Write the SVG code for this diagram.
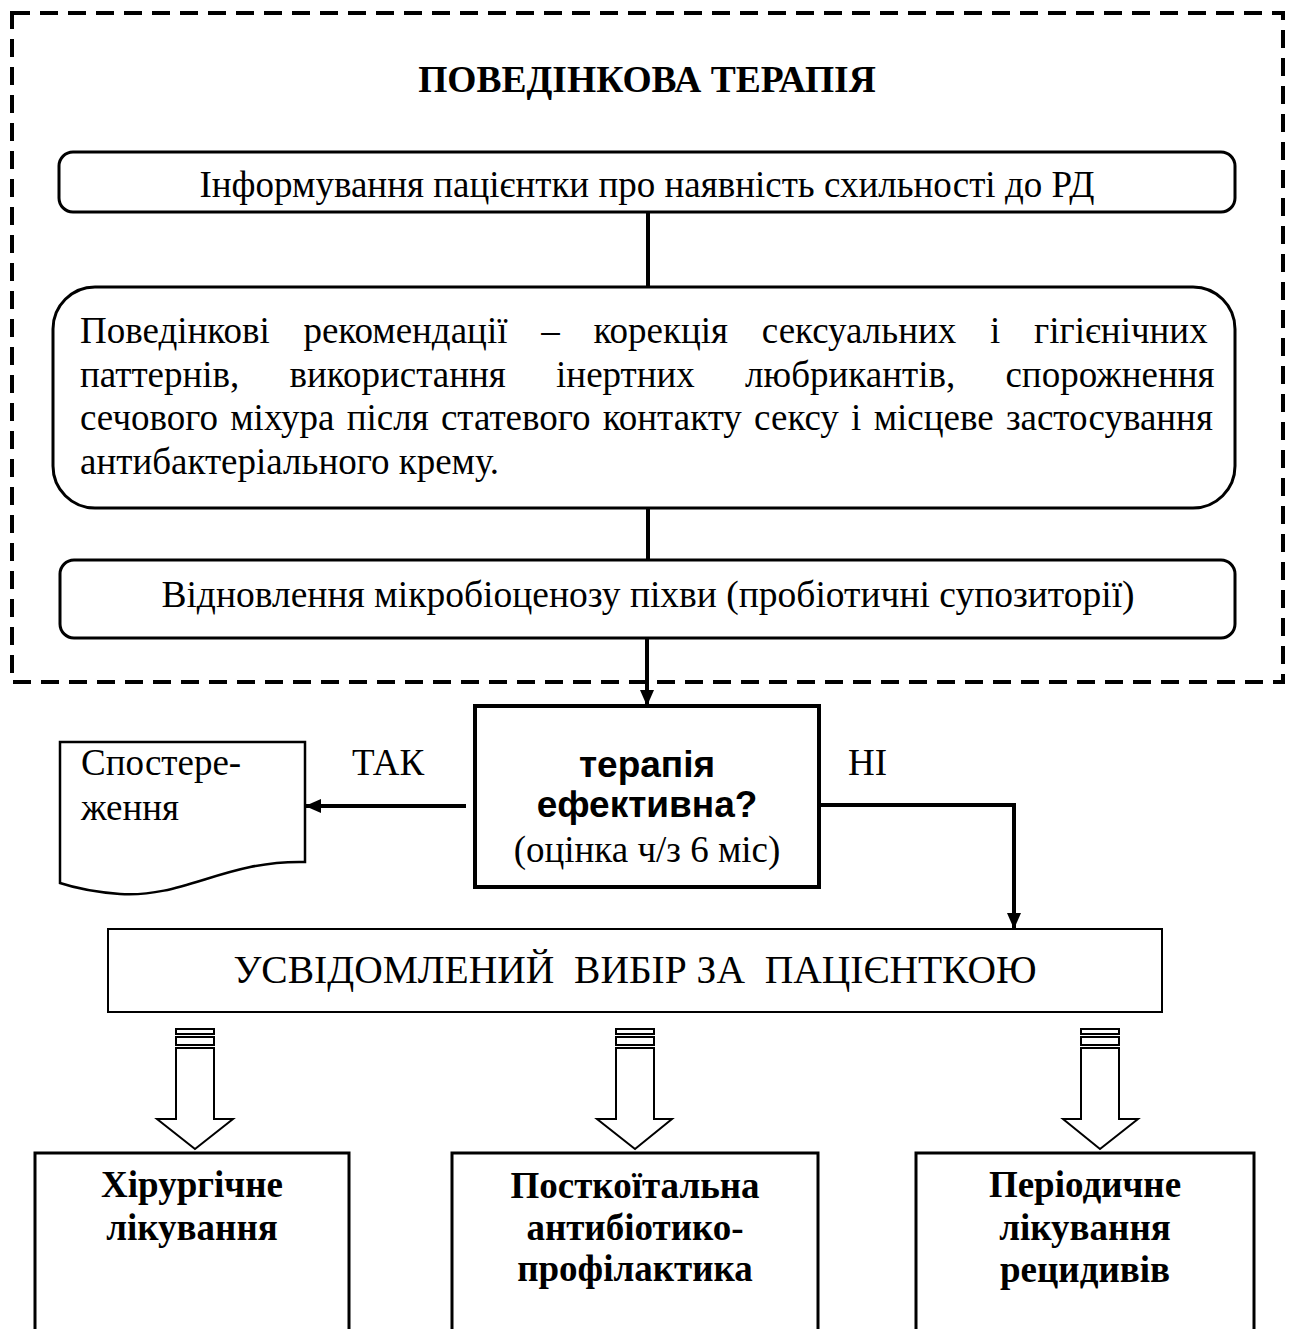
<svg xmlns="http://www.w3.org/2000/svg" width="1293" height="1329" viewBox="0 0 1293 1329">
<style>
.t{font-family:"Liberation Serif","Times New Roman",serif;font-size:37px;fill:#000}
.tb{font-family:"Liberation Serif","Times New Roman",serif;font-size:37px;font-weight:bold;fill:#000}
.ab{font-family:"Liberation Sans",Arial,sans-serif;font-size:37px;font-weight:bold;fill:#000}
.c{text-anchor:middle}
.box{fill:#fff;stroke:#000;stroke-width:3}
.conn{fill:none;stroke:#000;stroke-width:4}
.blk{fill:#fff;stroke:#000;stroke-width:2}
</style>
<defs>
<marker id="ah" markerUnits="userSpaceOnUse" markerWidth="16" markerHeight="14" refX="16" refY="7" orient="auto">
<path d="M0,0 L16,7 L0,14 Z" fill="#000"/>
</marker>
</defs>
<rect width="1293" height="1329" fill="#fff"/>

<g id="frame">
<rect x="12" y="13" width="1271" height="669" fill="none" stroke="#000" stroke-width="4" stroke-dasharray="18 10"/>
<text class="tb c" x="647" y="92" style="font-size:37.5px">ПОВЕДІНКОВА ТЕРАПІЯ</text>
</g>

<g id="connectors">
<line class="conn" x1="648" y1="212" x2="648" y2="287"/>
<line class="conn" x1="648" y1="508" x2="648" y2="560"/>
<line class="conn" x1="647" y1="638" x2="647" y2="706" marker-end="url(#ah)"/>
<line class="conn" x1="466" y1="806" x2="305" y2="806" marker-end="url(#ah)"/>
<polyline class="conn" points="819,805 1014,805 1014,929" marker-end="url(#ah)"/>
</g>

<g id="n1">
<rect class="box" x="59" y="152" width="1176" height="60" rx="14"/>
<text class="t c" x="647" y="197">Інформування пацієнтки про наявність схильності до РД</text>
</g>

<g id="n2">
<rect class="box" x="53" y="287" width="1182" height="221" rx="42"/>
<text class="t" x="80" y="343" word-spacing="24.5">Поведінкові рекомендації – корекція сексуальних і гігієнічних</text>
<text class="t" x="80" y="386.5" word-spacing="41">паттернів, використання інертних любрикантів, спорожнення</text>
<text class="t" x="80" y="430" word-spacing="3">сечового міхура після статевого контакту сексу і місцеве застосування</text>
<text class="t" x="80" y="473.5">антибактеріального крему.</text>
</g>

<g id="n3">
<rect class="box" x="60" y="560" width="1175" height="78" rx="14"/>
<text class="t c" x="648" y="607" style="font-size:37.5px">Відновлення мікробіоценозу піхви (пробіотичні супозиторії)</text>
</g>

<g id="decision">
<rect x="475" y="706" width="344" height="181" fill="#fff" stroke="#000" stroke-width="4"/>
<text class="ab c" x="647" y="777">терапія</text>
<text class="ab c" x="647" y="817">ефективна?</text>
<text class="t c" x="647" y="862">(оцінка ч/з 6 міс)</text>
</g>

<g id="observe">
<path d="M60,742 H305 V862 C225,860 185,898 120,894 C95,892 75,888 60,883 Z" fill="#fff" stroke="#000" stroke-width="2.5"/>
<text class="t" x="81" y="775">Спостере-</text>
<text class="t" x="81" y="820">ження</text>
</g>

<g id="labels">
<text class="t" x="352" y="775">ТАК</text>
<text class="t" x="848" y="775">НІ</text>
</g>

<g id="choice">
<rect x="108" y="929" width="1054" height="83" fill="#fff" stroke="#000" stroke-width="2"/>
<text class="t c" x="635" y="983" style="font-size:39.5px" xml:space="preserve">УСВІДОМЛЕНИЙ  ВИБІР ЗА  ПАЦІЄНТКОЮ</text>
</g>

<g id="block-arrows">
<rect class="blk" x="176" y="1029" width="38" height="5"/>
<rect class="blk" x="176" y="1037" width="38" height="8"/>
<path class="blk" d="M176,1048 H214 V1119 H233 L195,1149 L157,1119 H176 Z"/>
<rect class="blk" x="616" y="1029" width="38" height="5"/>
<rect class="blk" x="616" y="1037" width="38" height="8"/>
<path class="blk" d="M616,1048 H654 V1119 H672 L635,1149 L597,1119 H616 Z"/>
<rect class="blk" x="1081" y="1029" width="38" height="5"/>
<rect class="blk" x="1081" y="1037" width="38" height="8"/>
<path class="blk" d="M1081,1048 H1119 V1119 H1138 L1100,1149 L1063,1119 H1081 Z"/>
</g>

<g id="surgery">
<rect class="box" x="35" y="1153" width="314" height="200"/>
<text class="tb c" x="192" y="1197">Хірургічне</text>
<text class="tb c" x="192" y="1240">лікування</text>
</g>

<g id="prophylaxis">
<rect class="box" x="452" y="1153" width="366" height="200"/>
<text class="tb c" x="635" y="1198">Посткоїтальна</text>
<text class="tb c" x="635" y="1240">антибіотико-</text>
<text class="tb c" x="635" y="1281">профілактика</text>
</g>

<g id="periodic">
<rect class="box" x="916" y="1153" width="338" height="200"/>
<text class="tb c" x="1085" y="1197">Періодичне</text>
<text class="tb c" x="1085" y="1240">лікування</text>
<text class="tb c" x="1085" y="1282">рецидивів</text>
</g>
</svg>
